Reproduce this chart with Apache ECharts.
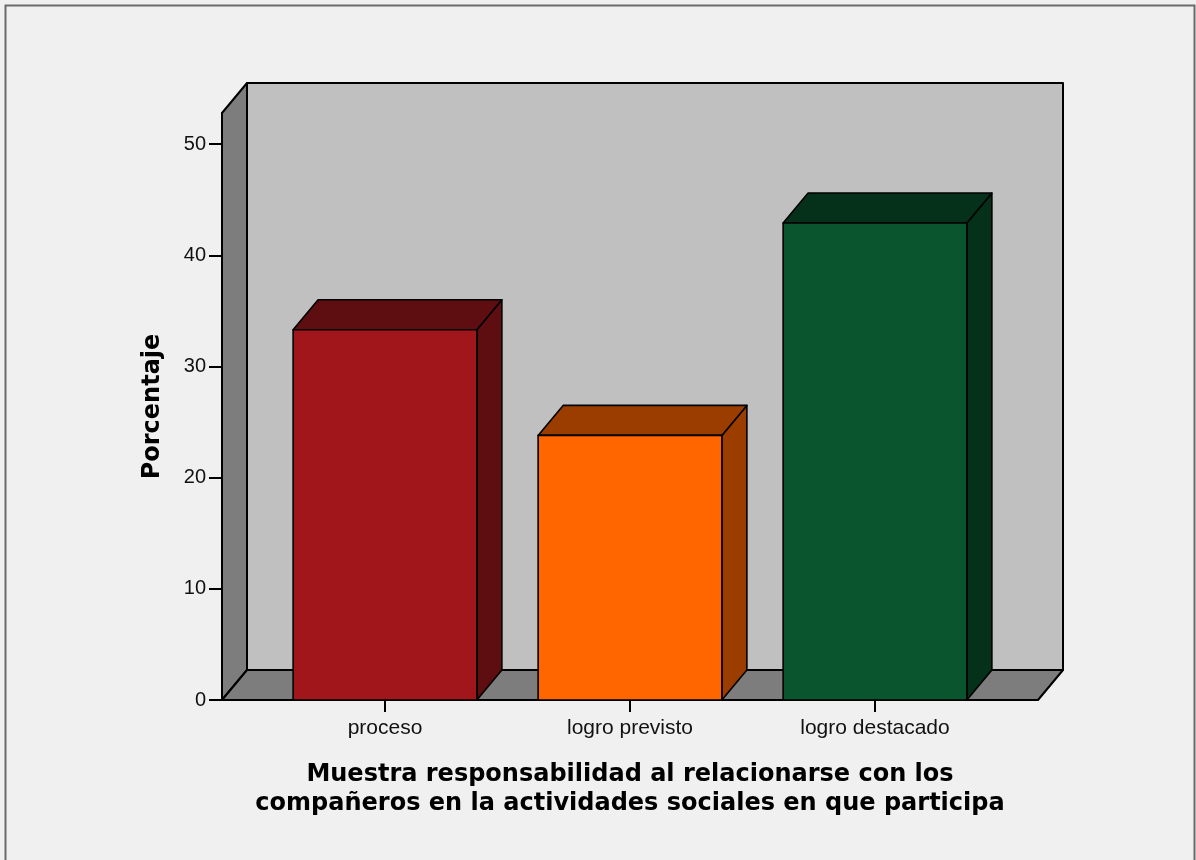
<!DOCTYPE html>
<html><head><meta charset="utf-8">
<script src="https://cdn.jsdelivr.net/npm/echarts@6/dist/echarts.min.js"></script>
<style>html,body{margin:0;padding:0;background:#f0f0f0}#c{width:1196px;height:860px}</style>
</head><body><div id="c"></div>
<script>
// ---- data ----
const categories = ['proceso', 'logro previsto', 'logro destacado'];
const values = [33.3, 23.8, 42.9];
const yTickValues = [0, 10, 20, 30, 40, 50];
const yAxisTitle = 'Porcentaje';
const xAxisTitle = 'Muestra responsabilidad al relacionarse con los\ncompañeros en la actividades sociales en que participa';

// ---- style ----
const frontColors = ['#a1161b', '#ff6600', '#0a552e'];
const shadeColors = ['#5e0d11', '#9c3d00', '#05311a'];
const DX = 25, DY = 30, PAD = 40.5;

const chart = echarts.init(document.getElementById('c'), null, {renderer: 'canvas'});

function renderWalls(params, api) {
  const cs = params.coordSys;
  const L = cs.x - PAD, R = cs.x + cs.width + PAD, T = cs.y, B = cs.y + cs.height;
  const ls = {stroke: '#000', lineWidth: 2, lineJoin: 'round'};
  return {type: 'group', children: [
    {type: 'rect', shape: {x: L + DX, y: T - DY, width: R - L, height: B - T}, style: Object.assign({fill: '#c0c0c0'}, ls)},
    {type: 'polygon', shape: {points: [[L, T], [L + DX, T - DY], [L + DX, B - DY], [L, B]]}, style: Object.assign({fill: '#7d7d7d'}, ls)},
    {type: 'polygon', shape: {points: [[L, B], [L + DX, B - DY], [R + DX, B - DY], [R, B]]}, style: Object.assign({fill: '#7d7d7d'}, ls)}
  ]};
}

function renderBar(params, api) {
  const i = api.value(0);
  const top = api.coord([i, api.value(1)]);
  const base = api.coord([i, 0]);
  const w = api.size([1, 0])[0] * 0.75;
  const x0 = top[0] - w / 2, x1 = top[0] + w / 2, yt = top[1], yb = base[1];
  const c = frontColors[params.dataIndex], d = shadeColors[params.dataIndex];
  const ls = {stroke: '#000', lineWidth: 1.6, lineJoin: 'round'};
  return {type: 'group', children: [
    {type: 'polygon', shape: {points: [[x1, yt], [x1 + DX, yt - DY], [x1 + DX, yb - DY], [x1, yb]]}, style: Object.assign({fill: d}, ls)},
    {type: 'polygon', shape: {points: [[x0, yt], [x0 + DX, yt - DY], [x1 + DX, yt - DY], [x1, yt]]}, style: Object.assign({fill: d}, ls)},
    {type: 'rect', shape: {x: x0, y: yt, width: w, height: yb - yt}, style: Object.assign({fill: c}, ls)}
  ]};
}

chart.setOption({
  backgroundColor: '#f0f0f0',
  animation: false,
  graphic: [{
    type: 'rect', left: 3, top: 3, z: 100,
    shape: {width: 1189, height: 900},
    style: {fill: 'none', stroke: '#6b6b6b', lineWidth: 2}
  }],
  grid: {left: 262.5, right: 198.5, top: 113, bottom: 160},
  xAxis: {
    type: 'category', data: categories, z: 10,
    axisLine: {show: false},
    axisTick: {show: true, alignWithLabel: true, length: 12, lineStyle: {color: '#000', width: 2}},
    axisLabel: {color: '#111', fontFamily: 'Liberation Sans', fontSize: 21, margin: 18},
    name: xAxisTitle, nameLocation: 'middle', nameGap: 60,
    nameTextStyle: {color: '#000', fontFamily: 'DejaVu Sans', fontWeight: 'bold', fontSize: 24, lineHeight: 29, align: 'center'}
  },
  yAxis: {
    type: 'value', min: 0, max: 52.8, interval: 10, offset: 40.5, z: 10,
    axisLine: {show: true, lineStyle: {color: '#000', width: 2}},
    axisTick: {show: true, length: 13, customValues: yTickValues, lineStyle: {color: '#000', width: 2}},
    axisLabel: {color: '#111', fontFamily: 'Liberation Sans', fontSize: 20, margin: 16, customValues: yTickValues},
    splitLine: {show: false},
    name: yAxisTitle, nameLocation: 'middle', nameGap: 57,
    nameTextStyle: {color: '#000', fontFamily: 'DejaVu Sans', fontWeight: 'bold', fontSize: 24}
  },
  series: [
    {type: 'custom', z: 1, clip: false, silent: true, renderItem: renderWalls, data: [[0, 0]]},
    {type: 'custom', z: 2, clip: false, renderItem: renderBar, data: values.map((v, i) => [i, v])}
  ]
});
</script>
</body></html>
